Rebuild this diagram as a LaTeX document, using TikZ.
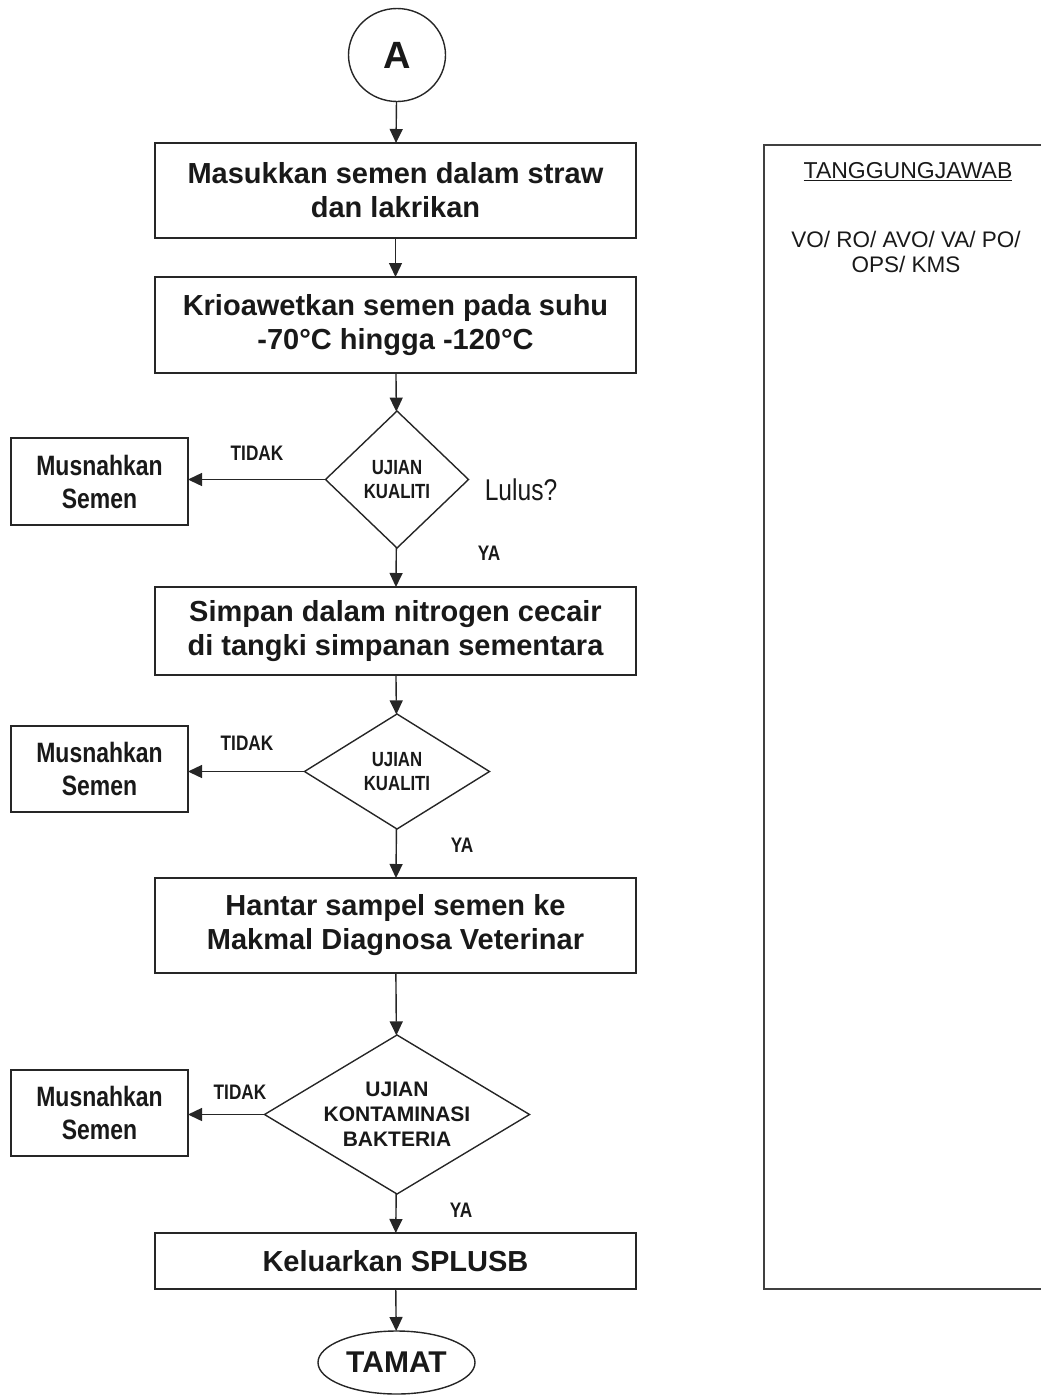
\documentclass[tikz,border=0pt]{standalone}
\usepackage{fontspec}
\setmainfont{Liberation Sans}
\newfontfamily\narrowfont[FakeStretch=0.82]{Liberation Sans}
\usetikzlibrary{arrows.meta,shapes.geometric}
\begin{document}
\begin{tikzpicture}[x=1pt,y=-1pt,
  line width=1.4pt, draw=black!85,
  every node/.style={inner sep=0pt, outer sep=0pt, text=black!90},
  procbox/.style={draw, rectangle, minimum width=481pt, align=center, font=\bfseries\fontsize{29}{34}\selectfont},
  killbox/.style={draw, rectangle, minimum width=177pt, minimum height=87pt, align=center, font=\narrowfont\bfseries\fontsize{28}{33}\selectfont},
  decision/.style={draw, diamond, align=center, font=\narrowfont\bfseries\fontsize{20.5}{24}\selectfont},
  lbl/.style={font=\narrowfont\bfseries\fontsize{21}{21}\selectfont},
  flow/.style={-{Triangle[length=14pt,width=13pt]}, line width=1.4pt}
]
\useasboundingbox (0,0) rectangle (1041,1398);
% start connector
\node[draw, ellipse, minimum width=97pt, minimum height=93pt, font=\bfseries\fontsize{38}{38}\selectfont] (A) at (397,55) {A};
% process boxes
\node[procbox, minimum height=95pt] (b1) at (395.5,190.5) {Masukkan semen dalam straw\\dan lakrikan};
\node[procbox, minimum height=96pt] (b2) at (395.5,325) {Krioawetkan semen pada suhu\\-70°C hingga -120°C};
\node[decision, minimum width=143pt, minimum height=137pt, inner sep=-8pt] (d1) at (397,479.5) {UJIAN\\KUALITI};
\node[killbox] (k1) at (99.5,481.5) {Musnahkan\\Semen};
\node[procbox, minimum height=88pt] (b3) at (395.5,631) {Simpan dalam nitrogen cecair\\di tangki simpanan sementara};
\node[decision, minimum width=185pt, minimum height=115pt, inner sep=-8pt] (d2) at (397,771.5) {UJIAN\\KUALITI};
\node[killbox, minimum height=86pt] (k2) at (99.5,769) {Musnahkan\\Semen};
\node[procbox, minimum height=95pt] (b4) at (395.5,925.5) {Hantar sampel semen ke\\Makmal Diagnosa Veterinar};
\node[decision, minimum width=265pt, minimum height=159pt, inner sep=-25pt, font=\bfseries\fontsize{21}{25}\selectfont] (d3) at (397,1114.5) {UJIAN\\KONTAMINASI\\BAKTERIA};
\node[killbox, minimum height=86pt] (k3) at (99.5,1113) {Musnahkan\\Semen};
\node[procbox, minimum height=56pt] (b5) at (395.5,1261) {Keluarkan SPLUSB};
\node[draw, ellipse, minimum width=157pt, minimum height=63pt, font=\bfseries\fontsize{30}{30}\selectfont] (end) at (396.5,1362.5) {TAMAT};
% labels
\node[font=\narrowfont\fontsize{30}{30}\selectfont] (lulus) at (521,490) {Lulus?};
\node[lbl] (t1) at (257,453) {TIDAK};
\node[lbl] (y1) at (489,553) {YA};
\node[lbl] (t2) at (247,743) {TIDAK};
\node[lbl] (y2) at (462,845) {YA};
\node[lbl] (t3) at (240,1092) {TIDAK};
\node[lbl] (y3) at (461,1210) {YA};
% connectors
\draw[flow] (A) -- (b1);
\draw[flow] (b1) -- (b2);
\draw[flow] (b2) -- (d1);
\draw[flow] (d1.west) -- (k1.east |- d1.west);
\draw[flow] (d1) -- (b3);
\draw[flow] (b3) -- (d2);
\draw[flow] (d2.west) -- (k2.east |- d2.west);
\draw[flow] (d2) -- (b4);
\draw[flow] (b4) -- (d3);
\draw[flow] (d3.west) -- (k3.east |- d3.west);
\draw[flow] (d3) -- (b5);
\draw[flow] (b5) -- (end);
% responsibility column
\draw[line width=1.4pt, draw=black!75] (1050,145) -- (764,145) -- (764,1289) -- (1050,1289);
\node[font=\fontsize{23}{23}\selectfont] (resp) at (908,172) {\underline{TANGGUNGJAWAB}};
\node[font=\fontsize{22.5}{25}\selectfont, align=center] (who) at (906,252) {VO/ RO/ AVO/ VA/ PO/\\OPS/ KMS};
\end{tikzpicture}
\end{document}
